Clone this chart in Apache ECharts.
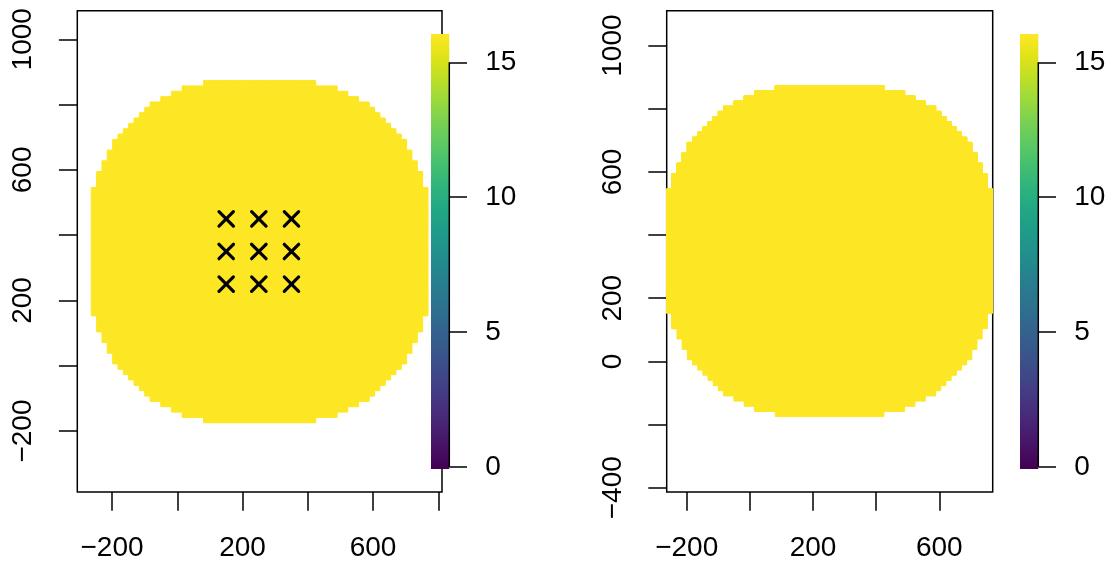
<!DOCTYPE html>
<html>
<head>
<meta charset="utf-8">
<script src="https://cdn.jsdelivr.net/npm/echarts@6/dist/echarts.min.js"></script>
<style>
  html, body { margin: 0; padding: 0; background: #ffffff; }
  #chart { width: 1115px; height: 565px; }
</style>
</head>
<body>
<div id="chart"></div>
<script>
// ---- raster layer: 63 x 64 square cells, empty cells trimmed at row ends ----
const nCols = 63;
const cellSize = 16.38;
const rasterXMin = -263.5;
const rasterYMax = 873.5;
// empty cells at each end of a row, top row first
const rowInset = [
  21, 17, 15, 13, 11, 10, 9, 8, 7, 6, 5, 4, 4, 3, 3, 2, 2, 1, 1, 1,
  0, 0, 0, 0, 0, 0, 0, 0, 0, 0, 0, 0, 0, 0, 0, 0, 0, 0, 0, 0, 0, 0, 0, 0,
  1, 1, 1, 2, 2, 3, 3, 4, 4, 5, 6, 7, 8, 9, 10, 11, 13, 15, 17, 21
];
const cellValue = 16;

// ---- sample points (left panel) ----
const pointX = [150, 250, 350, 150, 250, 350, 150, 250, 350];
const pointY = [450, 450, 450, 350, 350, 350, 250, 250, 250];

// ---- axis ticks and labels ----
const xTicksA = [-200, 0, 200, 400, 600, 800];
const xLabelsA = [-200, 200, 600];
const yTicksA = [-200, 0, 200, 400, 600, 800, 1000];
const yLabelsA = [-200, 200, 600, 1000];
const xTicksB = [-200, 0, 200, 400, 600];
const xLabelsB = [-200, 200, 600];
const yTicksB = [-400, -200, 0, 200, 400, 600, 800, 1000];
const yLabelsB = [-400, 0, 200, 600, 1000];

// ---- colour scale ----
const valueRange = [0, 16];
const legendTicks = [0, 5, 10, 15];
const legendLimits = [-0.08, 16.05];
const viridis = [
  '#440154', '#471365', '#482475', '#463480', '#414487', '#3B528B', '#355F8D',
  '#2F6C8E', '#2A788E', '#25848E', '#21918C', '#1E9C89', '#22A884', '#2FB47C',
  '#44BF70', '#5EC962', '#7AD151', '#9BD93C', '#BDDF26', '#DFE318', '#FDE725'
];

// one record per filled cell: [xLeft, xRight, yTop, yBottom, value]
const cells = [];
rowInset.forEach((inset, row) => {
  for (let col = inset; col < nCols - inset; col++) {
    cells.push([
      rasterXMin + col * cellSize,
      rasterXMin + (col + 1) * cellSize,
      rasterYMax - row * cellSize,
      rasterYMax - (row + 1) * cellSize,
      cellValue
    ]);
  }
});
const points = pointX.map((x, i) => [x, pointY[i]]);

const FONT = '"Liberation Sans", Arial, Helvetica, sans-serif';
const fmt = v => (v < 0 ? '\u2212' + Math.abs(v) : String(v));
const tickStyle = { color: '#000', width: 1.5 };
const hiddenLine = { show: false, onZero: false };

function xAxisFor(grid, min, max, ticks, labels) {
  return {
    type: 'value', gridIndex: grid, min: min, max: max, position: 'bottom',
    axisLine: hiddenLine, splitLine: { show: false },
    axisTick: { show: true, inside: false, length: 18.7, customValues: ticks, lineStyle: tickStyle },
    axisLabel: { show: true, customValues: labels, formatter: fmt, margin: 42.3,
      fontSize: 28, lineHeight: 28, fontFamily: FONT, color: '#000' }
  };
}
function yAxisFor(grid, min, max, ticks, labels) {
  return {
    type: 'value', gridIndex: grid, min: min, max: max, position: 'left',
    axisLine: hiddenLine, splitLine: { show: false },
    axisTick: { show: true, inside: false, length: 18.4, customValues: ticks, lineStyle: tickStyle },
    axisLabel: { show: true, customValues: labels, formatter: fmt, rotate: 90, margin: 39.7,
      fontSize: 28, lineHeight: 28, fontFamily: FONT, color: '#000' }
  };
}
function legendY(grid) {
  return {
    type: 'value', gridIndex: grid, position: 'right',
    min: legendLimits[0], max: legendLimits[1],
    axisLine: hiddenLine, splitLine: { show: false },
    axisTick: { show: true, inside: false, length: 17.7, customValues: legendTicks, lineStyle: tickStyle },
    axisLabel: { show: true, customValues: legendTicks, formatter: fmt, margin: 36,
      fontSize: 28, lineHeight: 28, fontFamily: FONT, color: '#000' }
  };
}
function legendX(grid) {
  return { type: 'value', gridIndex: grid, min: 0, max: 1, show: false,
    axisLine: hiddenLine };
}

function renderCell(params, api) {
  const p0 = api.coord([api.value(0), api.value(2)]);
  const p1 = api.coord([api.value(1), api.value(3)]);
  const color = api.visual('color');
  return {
    type: 'rect',
    shape: {
      x: Math.min(p0[0], p1[0]), y: Math.min(p0[1], p1[1]),
      width: Math.abs(p1[0] - p0[0]), height: Math.abs(p1[1] - p0[1])
    },
    style: { fill: color, stroke: color, lineWidth: 1 }
  };
}

function renderCross(params, api) {
  const c = api.coord([api.value(0), api.value(1)]);
  const h = 7.2;
  const st = { stroke: '#000', lineWidth: 3.2, lineCap: 'round' };
  return {
    type: 'group',
    children: [
      { type: 'line', shape: { x1: c[0] - h, y1: c[1] - h, x2: c[0] + h, y2: c[1] + h }, style: st },
      { type: 'line', shape: { x1: c[0] - h, y1: c[1] + h, x2: c[0] + h, y2: c[1] - h }, style: st }
    ]
  };
}

function renderLegend(params, api) {
  const lo = api.coord([0, api.value(0)]);
  const hi = api.coord([1, api.value(1)]);
  const v0 = api.coord([0, valueRange[0]])[1];
  const v1 = api.coord([0, valueRange[1]])[1];
  const stops = viridis.map((c, i) => ({ offset: i / (viridis.length - 1), color: c }));
  const axTop = api.coord([1, legendTicks[legendTicks.length - 1]]);
  const axBot = api.coord([1, legendTicks[0]]);
  return {
    type: 'group',
    children: [
      {
        type: 'rect',
        shape: { x: lo[0], y: hi[1], width: hi[0] - lo[0], height: lo[1] - hi[1] },
        style: { fill: new echarts.graphic.LinearGradient(0, v0, 0, v1, stops, true) }
      },
      {
        type: 'line',
        shape: { x1: axBot[0], y1: axBot[1], x2: axTop[0], y2: axTop[1] },
        style: { stroke: '#000', lineWidth: 1.5 }
      }
    ]
  };
}

const chart = echarts.init(document.getElementById('chart'), null, { renderer: 'canvas' });
const boxStyle = { show: true, borderColor: '#000', borderWidth: 1.5, backgroundColor: 'transparent', outerBoundsMode: 'none' };

chart.setOption({
  animation: false,
  backgroundColor: '#ffffff',
  grid: [
    Object.assign({ left: 77.3, top: 10.7, width: 364.7, height: 481.3 }, boxStyle),
    Object.assign({ left: 666.7, top: 10.7, width: 326, height: 481.3 }, boxStyle),
    { left: 431, top: 34, width: 18.3, height: 435, show: false, outerBoundsMode: 'none' },
    { left: 1020, top: 34, width: 18.3, height: 435, show: false, outerBoundsMode: 'none' }
  ],
  xAxis: [
    xAxisFor(0, -306.3, 811.3, xTicksA, xLabelsA),
    xAxisFor(1, -263.3, 769, xTicksB, xLabelsB),
    legendX(2),
    legendX(3)
  ],
  yAxis: [
    yAxisFor(0, -386.8, 1087.6, yTicksA, yLabelsA),
    yAxisFor(1, -413.5, 1110.5, yTicksB, yLabelsB),
    legendY(2),
    legendY(3)
  ],
  visualMap: {
    type: 'continuous', show: false, seriesIndex: [0, 2], dimension: 4,
    min: valueRange[0], max: valueRange[1], inRange: { color: viridis }
  },
  series: [
    { type: 'custom', xAxisIndex: 0, yAxisIndex: 0, data: cells, renderItem: renderCell,
      encode: { x: [0, 1], y: [2, 3] }, clip: false, silent: true, z: 2 },
    { type: 'custom', xAxisIndex: 0, yAxisIndex: 0, data: points, renderItem: renderCross,
      encode: { x: 0, y: 1 }, silent: true, z: 3 },
    { type: 'custom', xAxisIndex: 1, yAxisIndex: 1, data: cells, renderItem: renderCell,
      encode: { x: [0, 1], y: [2, 3] }, clip: false, silent: true, z: 2 },
    { type: 'custom', xAxisIndex: 2, yAxisIndex: 2, data: [legendLimits], renderItem: renderLegend,
      encode: { y: [0, 1] }, clip: false, silent: true, z: 4 },
    { type: 'custom', xAxisIndex: 3, yAxisIndex: 3, data: [legendLimits], renderItem: renderLegend,
      encode: { y: [0, 1] }, clip: false, silent: true, z: 4 }
  ]
});
</script>
</body>
</html>
